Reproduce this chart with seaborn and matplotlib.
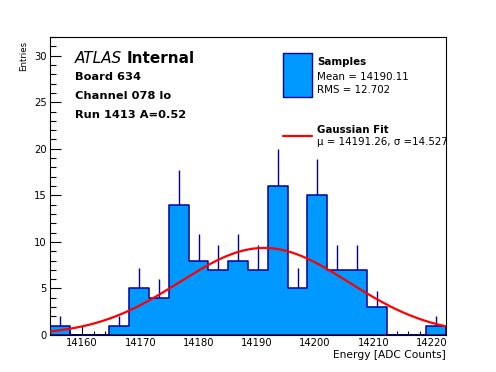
import numpy as np
import pandas as pd
import matplotlib
matplotlib.use("Agg")
import matplotlib.pyplot as plt
import seaborn as sns
from matplotlib.patches import Rectangle
from matplotlib.lines import Line2D
from matplotlib.ticker import MultipleLocator

# ---------------- data ----------------
bin_start = 14154.5
bin_width = 3.4
counts = [1, 0, 0, 1, 5, 4, 14, 8, 7, 8, 7, 16, 5, 15, 7, 7, 3, 0, 0, 1]
fit_mu = 14191.26
fit_sigma = 14.527
fit_amp = 9.35
sample_mean = 14190.11
sample_rms = 12.702
header_lines = ["Board 634", "Channel 078 lo", "Run 1413 A=0.52"]
x_label = "Energy [ADC Counts]"
y_label = "Entries"

# ---------------- style ----------------
FILL = "#0099ff"
NAVY = "#000099"
RED = "#ff0000"

sns.set_style("white")
plt.rcParams['font.family'] = ['DejaVu Sans']
plt.rcParams['text.color'] = 'black'
plt.rcParams['axes.labelcolor'] = 'black'
plt.rcParams['xtick.color'] = 'black'
plt.rcParams['ytick.color'] = 'black'

W, H = 496, 372
fig = plt.figure(figsize=(W / 100, H / 100), dpi=100)
ax = fig.add_axes([50 / W, 1 - 335 / H, 396 / W, 298 / H])


def fx(x):
    return x / W


def fy(y):
    return 1 - y / H


edges = bin_start + bin_width * np.arange(len(counts) + 1)
centers = (edges[:-1] + edges[1:]) / 2
df = pd.DataFrame({"energy": centers, "n": counts})

# error bars (lower half hidden behind the fill)
ax.errorbar(centers, counts, yerr=np.sqrt(counts), fmt="none",
            ecolor=NAVY, elinewidth=1.0, capsize=0, zorder=1)

sns.histplot(data=df, x="energy", weights="n", bins=[float(e) for e in edges],
             element="step", fill=True, color=FILL, alpha=1, edgecolor=NAVY,
             linewidth=1.1, ax=ax, zorder=2)

# gaussian fit curve
xs = np.linspace(edges[0], edges[-1], 300)
fit_df = pd.DataFrame({"x": xs,
                       "y": fit_amp * np.exp(-0.5 * ((xs - fit_mu) / fit_sigma) ** 2)})
sns.lineplot(data=fit_df, x="x", y="y", color=RED, linewidth=1.6, ax=ax,
             zorder=3, sort=False)

ax.set_xlim(edges[0], edges[-1])
ax.set_ylim(0, 32)

for s in ax.spines.values():
    s.set_visible(True)
    s.set_color("black")
    s.set_linewidth(0.8)

ax.xaxis.set_major_locator(MultipleLocator(10))
ax.xaxis.set_minor_locator(MultipleLocator(2))
ax.yaxis.set_major_locator(MultipleLocator(5))
ax.yaxis.set_minor_locator(MultipleLocator(1))
ax.tick_params(axis="both", which="both", direction="in", top=False,
               right=False, bottom=True, left=True, width=0.8,
               labelsize=7.2, pad=2.2, colors="black")
ax.tick_params(axis="x", which="major", length=6.5)
ax.tick_params(axis="x", which="minor", length=3.2)
ax.tick_params(axis="y", which="major", length=7.7)
ax.tick_params(axis="y", which="minor", length=4.0)

ax.set_xlabel(x_label, loc="right", fontsize=7.7, color="black")
ax.xaxis.set_label_coords(1.0, -0.05)
ax.set_ylabel(y_label, loc="top", fontsize=6.2, color="black")
ax.yaxis.set_label_coords(-0.056, 0.988)

# ATLAS label
renderer = fig.canvas.get_renderer()
t1 = fig.text(fx(75), fy(63), "ATLAS", style="italic", fontsize=11,
              va="baseline", ha="left", color="black")
w1 = t1.get_window_extent(renderer).width
fig.text(fx(75 + w1 + 4.5), fy(63), "Internal", weight="bold", fontsize=11,
         va="baseline", ha="left", color="black")
for line, yb in zip(header_lines, [80, 99, 118]):
    fig.text(fx(75), fy(yb), line, weight="bold", fontsize=8.2,
             va="baseline", ha="left", color="black")

# legend
fig.patches.append(Rectangle((fx(283.3), fy(96.5)), (311.7 - 283.3) / W,
                             (96.5 - 53.3) / H, transform=fig.transFigure,
                             facecolor=FILL, edgecolor=NAVY, linewidth=1.0))
fig.lines.append(Line2D([fx(283), fx(312)], [fy(136), fy(136)],
                        transform=fig.transFigure, color=RED, linewidth=1.6))
fig.text(fx(317), fy(65), "Samples", weight="bold", fontsize=7.4,
         va="baseline", color="black")
fig.text(fx(317), fy(80), f"Mean = {sample_mean:.2f}", fontsize=7.4,
         va="baseline", color="black")
fig.text(fx(317), fy(93.3), f"RMS = {sample_rms:.3f}", fontsize=7.4,
         va="baseline", color="black")
fig.text(fx(317), fy(132.7), "Gaussian Fit", weight="bold", fontsize=7.4,
         va="baseline", color="black")
ax.text(fx(317), fy(145), f"\u03bc = {fit_mu:.2f}, \u03c3 ={fit_sigma:.3f}",
        fontsize=7.4, va="baseline", transform=fig.transFigure, clip_on=True,
        color="black")

fig.savefig("out.png", dpi=100)
